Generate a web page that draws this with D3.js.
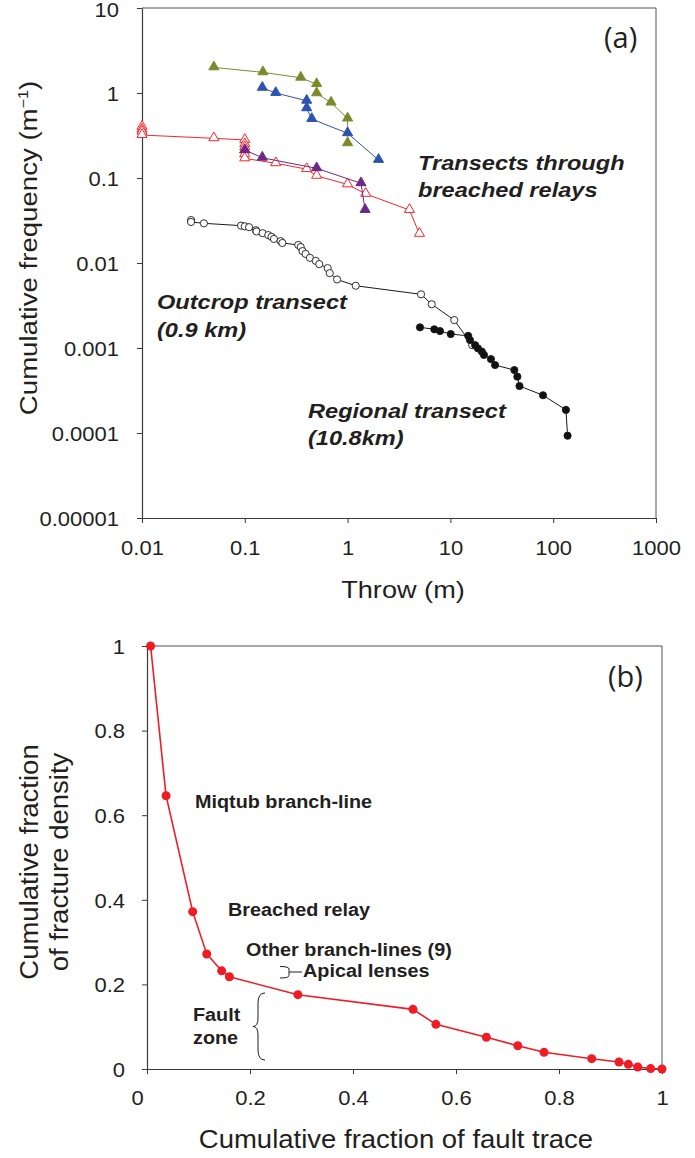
<!DOCTYPE html>
<html><head><meta charset="utf-8">
<script src="https://cdn.jsdelivr.net/npm/d3@7/dist/d3.min.js"></script>
<style>
body{margin:0;background:#fff;}
svg text{font-family:"Liberation Sans",Arial,sans-serif;fill:#231f20;}
</style></head>
<body>
<svg id="c" width="695" height="1158"></svg>
<script>
// ---------- Panel (a) data ----------
const greenThrow = [0.05,0.15,0.35,0.5,0.5,0.69,1,1];
const greenFreq  = [2.0,1.75,1.51,1.27,0.99,0.77,0.50,0.256];
const blueThrow  = [0.148,0.2,0.4,0.4,0.448,1,2];
const blueFreq   = [1.15,1.0,0.81,0.66,0.494,0.336,0.163];
const redThrow   = [0.01,0.01,0.01,0.01,0.05,0.1,0.1,0.1,0.1,0.1,0.1,0.2,0.4,0.5,1,1.5,4,5];
const redFreq    = [0.40,0.37,0.35,0.32,0.293,0.28,0.25,0.23,0.21,0.19,0.17,0.149,0.127,0.106,0.084,0.065,0.042,0.022];
const purpleThrow= [0.1,0.148,0.5,1.35,1.48];
const purpleFreq = [0.213,0.173,0.130,0.0867,0.042];
const outcropThrow=[0.03,0.03,0.04,0.092,0.1,0.11,0.128,0.13,0.149,0.169,0.182,0.192,0.223,0.232,0.331,0.35,0.364,0.39,0.43,0.49,0.53,0.64,0.67,0.79,1.2,5.18,6.58,10.9,16.3];
const outcropFreq= [0.032,0.0304,0.0293,0.0275,0.027,0.0264,0.0243,0.0235,0.0224,0.0213,0.0203,0.0192,0.0181,0.0172,0.0163,0.0154,0.0138,0.0128,0.0115,0.0106,0.0097,0.0087,0.0076,0.0064,0.0054,0.00428,0.00327,0.00213,0.00108];
const regionalThrow=[5.06,6.97,7.92,10.07,14.9,15.5,17.4,18.5,20.2,21.2,24.8,27.2,41.9,44.8,47,79.6,133,138];
const regionalFreq=[0.00175,0.00166,0.00158,0.00146,0.00139,0.00124,0.00108,0.00099,0.00091,0.00083,0.00074,0.00063,0.00055,0.00046,0.000357,0.000278,0.000187,0.000093];
const aXTicks = [0.01,0.1,1,10,100,1000];
const aXTickLabels = ["0.01","0.1","1","10","100","1000"];
const aYTicks = [0.00001,0.0001,0.001,0.01,0.1,1,10];
const aYTickLabels = ["0.00001","0.0001","0.001","0.01","0.1","1","10"];

// ---------- Panel (b) data ----------
const traceFrac   = [0.007,0.037,0.0887,0.116,0.145,0.160,0.293,0.5165,0.561,0.659,0.720,0.771,0.8635,0.9165,0.9346,0.9528,0.978,1.0];
const densityFrac = [1.0,0.646,0.372,0.272,0.232,0.218,0.1757,0.141,0.1056,0.075,0.055,0.0394,0.0244,0.0165,0.011,0.0047,0.001,0];
const bTicks = [0,0.2,0.4,0.6,0.8,1];
const bTickLabels = ["0","0.2","0.4","0.6","0.8","1"];

const svg = d3.select("#c");
const AX = "#3a3a3a";

// ================= Panel (a) =================
const ax = d3.scaleLog().domain([0.01,1000]).range([142,656]);
const ay = d3.scaleLog().domain([0.00001,10]).range([518,8]);
const ga = svg.append("g");

ga.append("line").attr("x1",142).attr("x2",656).attr("y1",ay(10)).attr("y2",ay(10)).attr("stroke","#555").attr("stroke-width",1);
ga.append("line").attr("x1",656).attr("x2",656).attr("y1",ay(10)).attr("y2",ay(0.00001)).attr("stroke","#555").attr("stroke-width",1);

const axB = ga.append("g").attr("transform","translate(0,518)")
  .call(d3.axisBottom(ax).tickValues(aXTicks).tickFormat((d,i)=>aXTickLabels[i]).tickSize(5).tickSizeOuter(0));
const axL = ga.append("g").attr("transform","translate(142,0)")
  .call(d3.axisLeft(ay).tickValues(aYTicks).tickFormat((d,i)=>aYTickLabels[i]).tickSize(5).tickSizeOuter(0));
[axB,axL].forEach(g=>{
  g.select(".domain").attr("stroke",AX).attr("stroke-width",1.2);
  g.selectAll(".tick line").attr("stroke",AX);
  g.selectAll(".tick text").attr("font-size",20).attr("fill","#231f20").style("font-family","Liberation Sans, Arial");
});
axB.selectAll(".tick text").attr("dy",0).attr("y",37);
axL.selectAll(".tick text").attr("x",-23).attr("dy","0.36em");
axL.selectAll(".tick").filter(d=>d===10).select("text").attr("dy","0.42em");

const line = (xs,ys,sx,sy)=>d3.line().x((d,i)=>sx(xs[i])).y((d,i)=>sy(ys[i]))(xs);
const tri = d3.symbol().type(d3.symbolTriangle).size(44);

function series(xs,ys,color,kind,fill){
  ga.append("path").attr("d",line(xs,ys,ax,ay)).attr("fill","none").attr("stroke",color).attr("stroke-width",1);
  const g = ga.append("g");
  xs.forEach((x,i)=>{
    if(kind==="tri"){
      g.append("path").attr("d",tri()).attr("transform",`translate(${ax(x)},${ay(ys[i])-0.5})`)
        .attr("fill",fill).attr("stroke",color).attr("stroke-width",1);
    } else {
      g.append("circle").attr("cx",ax(x)).attr("cy",ay(ys[i])).attr("r",3.6)
        .attr("fill",fill).attr("stroke",color).attr("stroke-width",0.9);
    }
  });
}
series(outcropThrow,outcropFreq,"#1a1a1a","circ","#fff");
series(regionalThrow,regionalFreq,"#1a1a1a","circ","#111");
series(redThrow,redFreq,"#f4262b","tri","#fff");
series(purpleThrow,purpleFreq,"#6c2a86","tri","#6c2a86");
series(greenThrow,greenFreq,"#7c8a2e","tri","#7c8a2e");
series(blueThrow,blueFreq,"#2e52b0","tri","#2e52b0");

const annA = (t,x,y)=>ga.append("text").attr("x",x).attr("y",y).attr("font-size",20.5).attr("data-s",1.15)
  .attr("font-weight","bold").attr("font-style","italic").text(t);
annA("Transects through",418,170);
annA("breached relays",418,197);
annA("Outcrop transect",157,309);
annA("(0.9 km)",157,337);
annA("Regional transect",308,418);
annA("(10.8km)",308,445);

ga.append("text").attr("x",604).attr("y",48).attr("font-size",29).attr("data-s",0).style("font-family","Open Sans, Lato, sans-serif").text("(a)");

ga.append("text").attr("x",403).attr("y",598).attr("text-anchor","middle").attr("font-size",24).attr("data-s",1.13).text("Throw (m)");
const yt = ga.append("text").attr("transform","translate(37,248) rotate(-90) scale(1.15,1)").attr("data-s",0)
  .attr("text-anchor","middle").attr("font-size",24);
yt.append("tspan").text("Cumulative frequency (m");
yt.append("tspan").attr("font-size",14).attr("dy",-9).text("\u22121");
yt.append("tspan").attr("dy",9).text(")");

// ================= Panel (b) =================
const bx = d3.scaleLinear().domain([0,1]).range([147,662]);
const by = d3.scaleLinear().domain([0,1]).range([1069,646]);
const gb = svg.append("g");
gb.append("line").attr("x1",147).attr("x2",662).attr("y1",by(1)).attr("y2",by(1)).attr("stroke","#8a8a8a").attr("stroke-width",1.3);
gb.append("line").attr("x1",662).attr("x2",662).attr("y1",by(1)).attr("y2",by(0)).attr("stroke","#555").attr("stroke-width",1);
const bB = gb.append("g").attr("transform","translate(0,1069)")
  .call(d3.axisBottom(bx).tickValues(bTicks).tickFormat((d,i)=>bTickLabels[i]).tickSize(5).tickSizeOuter(0));
const bL = gb.append("g").attr("transform","translate(147,0)")
  .call(d3.axisLeft(by).tickValues(bTicks).tickFormat((d,i)=>bTickLabels[i]).tickSize(5).tickSizeOuter(0));
[bB,bL].forEach(g=>{
  g.select(".domain").attr("stroke",AX).attr("stroke-width",1.2);
  g.selectAll(".tick line").attr("stroke",AX);
  g.selectAll(".tick text").attr("font-size",20).attr("fill","#231f20").style("font-family","Liberation Sans, Arial");
});
bB.selectAll(".tick text").attr("dy",0).attr("y",36);
bB.selectAll(".tick").filter((d,i)=>i===0).select("text").attr("x",-10);
bL.selectAll(".tick text").attr("x",-22).attr("dy","0.36em");

gb.append("path").attr("d",line(traceFrac,densityFrac,bx,by)).attr("fill","none").attr("stroke","#ee1c25").attr("stroke-width",1.6);
gb.append("g").selectAll("circle").data(traceFrac).join("circle")
  .attr("cx",d=>bx(d)).attr("cy",(d,i)=>by(densityFrac[i])).attr("r",4.5).attr("fill","#ee1c25");

const annB = (t,x,y)=>gb.append("text").attr("x",x).attr("y",y).attr("font-size",18).attr("font-weight","bold").text(t);
annB("Miqtub branch-line",195,808);
annB("Breached relay",228,916);
annB("Other branch-lines (9)",246,956);
annB("Apical lenses",303,977);
annB("Fault",193,1021);
annB("zone",193,1044);
gb.append("path").attr("d","M280,966.5 Q289,966.5 289,969 L289,975.5 Q289,978 280,978 M289,972 L302,972")
  .attr("fill","none").attr("stroke","#231f20").attr("stroke-width",1);
gb.append("path").attr("d","M265,993 Q258,993 258,1003 L258,1018 Q258,1026.5 253,1026.5 Q258,1026.5 258,1035 L258,1050 Q258,1060 265,1060")
  .attr("fill","none").attr("stroke","#231f20").attr("stroke-width",1);

gb.append("text").attr("x",608).attr("y",687).attr("font-size",29).attr("data-s",0).style("font-family","Open Sans, Lato, sans-serif").text("(b)");

gb.append("text").attr("x",396).attr("y",1148).attr("text-anchor","middle").attr("font-size",25).text("Cumulative fraction of fault trace");
gb.append("text").attr("transform","translate(38,862) rotate(-90)").attr("text-anchor","middle").attr("font-size",25).text("Cumulative fraction");
gb.append("text").attr("transform","translate(68,862) rotate(-90)").attr("text-anchor","middle").attr("font-size",25).text("of fracture density");

// horizontal stretch of Arial-like glyphs to match the reference
svg.selectAll("text").each(function(){
  const s = this.getAttribute("data-s");
  const f = s===null ? 1.1 : +s;
  if(!f) return;
  const L = this.getComputedTextLength();
  d3.select(this).attr("textLength",L*f).attr("lengthAdjust","spacingAndGlyphs");
});
</script>
</body></html>
